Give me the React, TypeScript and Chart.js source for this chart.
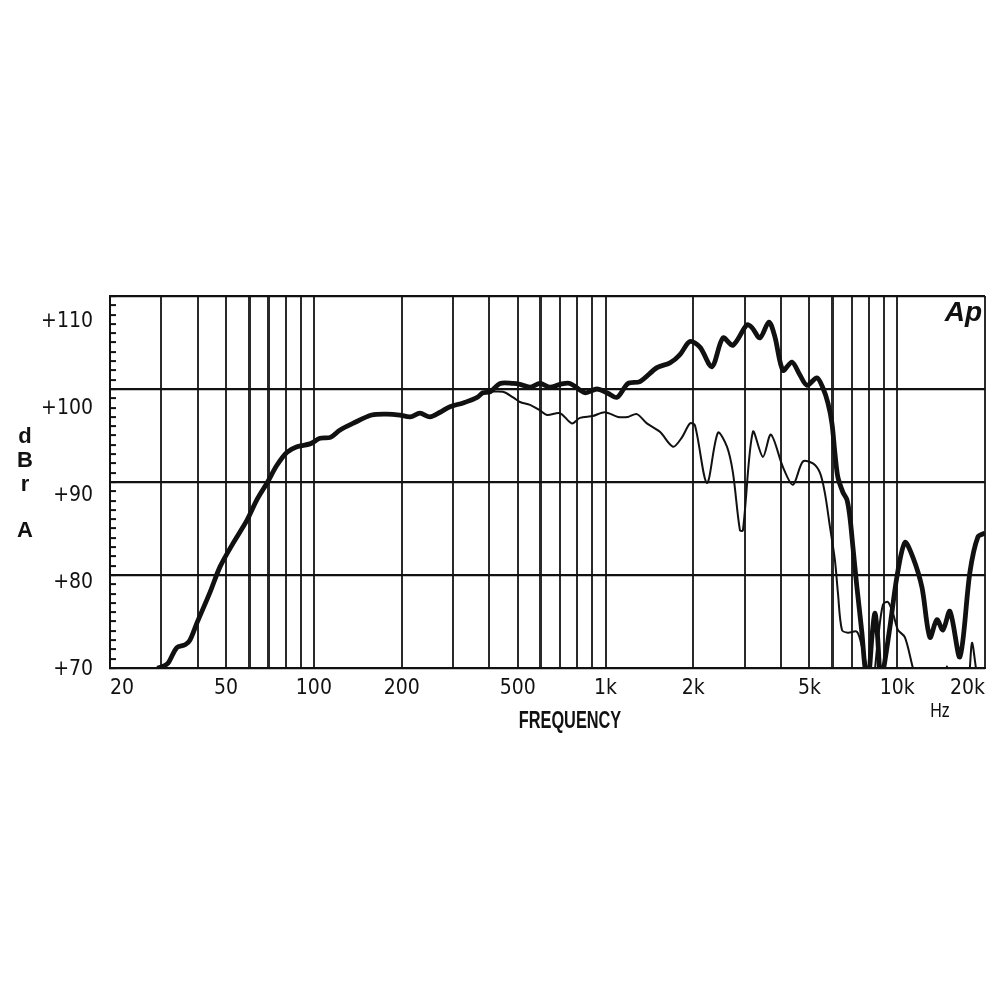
import React, { useEffect, useRef } from 'react';
import { Chart, registerables } from 'chart.js';

Chart.register(...registerables);

const FONT = "'Liberation Sans Narrow', 'DejaVu Sans Condensed', 'Liberation Sans', Arial, sans-serif";

// Frequency grid (Hz) and labels
const X_GRID_HZ = [20, 30, 40, 50, 60, 70, 80, 90, 100, 200, 300, 400, 500, 600, 700, 800, 900, 1000, 2000, 3000, 4000, 5000, 6000, 7000, 8000, 9000, 10000, 20000];
const X_LABEL_HZ = [20, 50, 100, 200, 500, 1000, 2000, 5000, 10000, 20000];
const X_LABEL_TEXT = ['20', '50', '100', '200', '500', '1k', '2k', '5k', '10k', '20k'];
const X_HEAVY_HZ = [60, 70, 600, 6000];

// Level axis (dBrA)
const Y_LABEL_VALUES = [70, 80, 90, 100, 110];
const Y_MINOR_TICKS = [70, 71, 72, 73, 74, 75, 76, 77, 78, 79, 80, 81, 82, 83, 84, 85, 86, 87, 88, 89, 90, 91, 92, 93, 94, 95, 96, 97, 98, 99, 100, 101, 102, 103, 104, 105, 106, 107, 108, 109, 110];

// Thick curve (on-axis response)
const THICK_HZ = [29, 30, 31.6, 33.9, 36.2, 37.6, 39.8, 44, 47.7, 52.8, 59, 63.8, 69.1, 74.7, 80.9, 87.5, 97, 105, 114, 123, 136, 158, 178, 197, 214, 231, 250, 271, 293, 325, 363, 380, 402, 435, 482, 509, 551, 596, 645, 698, 755, 850, 934, 1011, 1094, 1194, 1312, 1501, 1663, 1800, 1947, 2107, 2316, 2527, 2734, 3054, 3177, 3384, 3632, 3808, 4058, 4355, 4640, 4904, 5306, 5564, 5786, 5974, 6116, 6262, 6514, 6724, 6886, 7050, 7275, 7568, 7752, 7950, 8200, 8389, 8560, 8727, 8850, 9441, 9977, 10630, 11322, 12153, 12946, 13682, 14346, 15162, 16406, 17756, 18914, 20000];
const THICK_DB = [70.0, 70.1, 70.5, 72.2, 72.5, 73.0, 74.9, 78.1, 80.9, 83.4, 85.9, 88.1, 89.9, 91.8, 93.2, 93.8, 94.1, 94.7, 94.8, 95.6, 96.3, 97.2, 97.3, 97.2, 97.0, 97.4, 97.0, 97.5, 98.1, 98.5, 99.1, 99.6, 99.7, 100.6, 100.6, 100.5, 100.2, 100.6, 100.2, 100.5, 100.6, 99.6, 100.0, 99.6, 99.1, 100.6, 100.8, 102.3, 102.8, 103.7, 105.1, 104.5, 102.4, 105.5, 104.7, 106.9, 106.6, 105.5, 107.2, 105.6, 102.0, 102.9, 101.5, 100.4, 101.2, 100.1, 98.5, 96.3, 93.1, 90.5, 88.9, 88.1, 86.2, 83.0, 78.7, 73.8, 70.1, 68.5, 73.5, 75.9, 73.5, 69.3, 68.8, 74.4, 79.8, 83.5, 81.9, 78.7, 73.3, 75.2, 74.1, 76.1, 71.2, 80.3, 84.1, 84.5];

// Thin curve (off-axis response)
const THIN_HZ = [363, 380, 402, 445, 482, 509, 551, 596, 630, 698, 767, 817, 905, 995, 1103, 1194, 1281, 1386, 1536, 1703, 1828, 1947, 2025, 2227, 2429, 2608, 2734, 2890, 2958, 3201, 3464, 3690, 4058, 4390, 4750, 5140, 5433, 5651, 5880, 6116, 6262, 6464, 6776, 7275, 7568, 7874, 8192, 8588, 8933, 9294, 9670, 10058, 10630, 11322, 11964, 14012, 14500, 14808, 15200, 16500, 17500, 18040, 18618, 19200, 20000];
const THIN_DB = [99.1, 99.6, 99.7, 99.7, 99.1, 98.6, 98.3, 97.7, 97.2, 97.4, 96.3, 96.9, 97.1, 97.5, 97.0, 97.0, 97.3, 96.3, 95.4, 93.8, 94.8, 96.3, 96.1, 89.9, 95.3, 93.8, 91.0, 84.8, 84.8, 95.4, 92.7, 95.1, 91.6, 89.7, 92.2, 92.0, 91.0, 88.8, 85.2, 81.6, 78.1, 74.1, 73.8, 73.9, 72.3, 70.0, 67.6, 73.0, 76.8, 77.1, 75.9, 74.1, 73.3, 70.0, 67.6, 67.6, 68.5, 70.2, 68.5, 67.5, 68.5, 72.7, 70.0, 67.5, 67.0];

const INK = '#111111';
const GRID = '#2a2a2a';

function drawCondensed(ctx: CanvasRenderingContext2D, text: string, x: number, y: number, sx: number) {
  ctx.save();
  ctx.translate(x, y);
  ctx.scale(sx, 1);
  ctx.fillText(text, 0, 0);
  ctx.restore();
}

const extraText = {
  id: 'extraText',
  afterDraw(chart: any) {
    const { ctx, chartArea } = chart;
    ctx.save();
    ctx.fillStyle = INK;
    ctx.textAlign = 'center';
    ctx.textBaseline = 'middle';
    ctx.font = `bold 24px 'Liberation Sans', Arial, sans-serif`;
    drawCondensed(ctx, 'FREQUENCY', 570, 721, 0.68);
    ctx.font = `20px 'Liberation Sans', Arial, sans-serif`;
    drawCondensed(ctx, 'Hz', 940, 711, 0.8);
    ctx.font = `bold 22px 'Liberation Sans', Arial, sans-serif`;
    ctx.fillText('d', 25, 437);
    ctx.fillText('B', 25, 461);
    ctx.fillText('r', 25, 485);
    ctx.fillText('A', 25, 531);
    ctx.font = `italic 900 28px 'Liberation Sans', Arial, sans-serif`;
    ctx.textAlign = 'right';
    ctx.fillText('Ap', chartArea.right - 3, chartArea.top + 17);
    ctx.restore();
  },
};

export default function App() {
  const canvasRef = useRef<HTMLCanvasElement | null>(null);

  useEffect(() => {
    const canvas = canvasRef.current;
    if (!canvas) return;
    const chart = new Chart(canvas, {
      type: 'line',
      data: {
        datasets: [
          {
            label: 'Off-axis',
            data: THIN_HZ.map((f, i) => ({ x: f, y: THIN_DB[i] })),
            borderColor: INK,
            borderWidth: 2,
            pointRadius: 0,
            tension: 0.3,
            fill: false,
            clip: 0,
            yAxisID: 'y',
          },
          {
            label: 'On-axis',
            data: THICK_HZ.map((f, i) => ({ x: f, y: THICK_DB[i] })),
            borderColor: INK,
            borderWidth: 4.8,
            pointRadius: 0,
            tension: 0.3,
            fill: false,
            clip: 0,
            yAxisID: 'y',
          },
        ],
      },
      options: {
        animation: false,
        responsive: false,
        maintainAspectRatio: false,
        layout: { padding: { left: 0, right: 15, top: 296, bottom: 0 } },
        plugins: {
          legend: { display: false },
          tooltip: { enabled: false },
          title: { display: false },
        },
        scales: {
          x: {
            type: 'logarithmic',
            position: 'bottom',
            min: 20,
            max: 20000,
            afterBuildTicks: (scale: any) => {
              scale.ticks = X_GRID_HZ.map((v) => ({ value: v }));
            },
            afterFit: (scale: any) => {
              scale.height = 332;
              scale.paddingLeft = 0;
              scale.paddingRight = 0;
            },
            ticks: {
              autoSkip: false,
              maxRotation: 0,
              minRotation: 0,
              align: 'inner',
              padding: 8,
              color: INK,
              font: { family: FONT, size: 21 },
              callback: (value: any) => {
                const idx = X_LABEL_HZ.indexOf(Number(value));
                return idx >= 0 ? X_LABEL_TEXT[idx] : '';
              },
            },
            grid: {
              color: GRID,
              lineWidth: (ctx: any) => (ctx.tick && X_HEAVY_HZ.includes(ctx.tick.value) ? 3 : 2),
              drawTicks: false,
            },
            border: { display: true, color: INK, width: 2 },
          },
          yl: {
            type: 'linear',
            position: 'left',
            weight: 1,
            min: 70.23,
            max: 112.99,
            afterBuildTicks: (scale: any) => {
              scale.ticks = Y_LABEL_VALUES.map((v) => ({ value: v }));
            },
            afterFit: (scale: any) => {
              scale.width = 110;
              scale.paddingTop = 0;
              scale.paddingBottom = 0;
            },
            ticks: {
              autoSkip: false,
              padding: 17,
              color: INK,
              font: { family: FONT, size: 21 },
              callback: (value: any) => '+' + value,
            },
            grid: { display: false, drawTicks: false },
            border: { display: false },
          },
          y: {
            type: 'linear',
            position: 'left',
            weight: 0,
            min: 70,
            max: 110,
            afterBuildTicks: (scale: any) => {
              scale.ticks = Y_MINOR_TICKS.map((v) => ({ value: v }));
            },
            afterFit: (scale: any) => {
              scale.width = 0;
            },
            ticks: { display: false },
            grid: {
              color: (ctx: any) => (ctx.tick && ctx.tick.value % 10 === 0 ? INK : 'rgba(0,0,0,0)'),
              lineWidth: 2.2,
              drawTicks: true,
              tickLength: -6,
              tickColor: INK,
              tickWidth: 2,
            },
            border: { display: true, color: INK, width: 2 },
          },
        },
      },
      plugins: [extraText],
    } as any);
    return () => chart.destroy();
  }, []);

  return (
    <div style={{ position: 'absolute', left: 0, top: 0, width: 1000, height: 1000, background: '#fff' }}>
      <canvas ref={canvasRef} width={1000} height={1000} style={{ display: 'block', width: 1000, height: 1000 }} />
    </div>
  );
}
